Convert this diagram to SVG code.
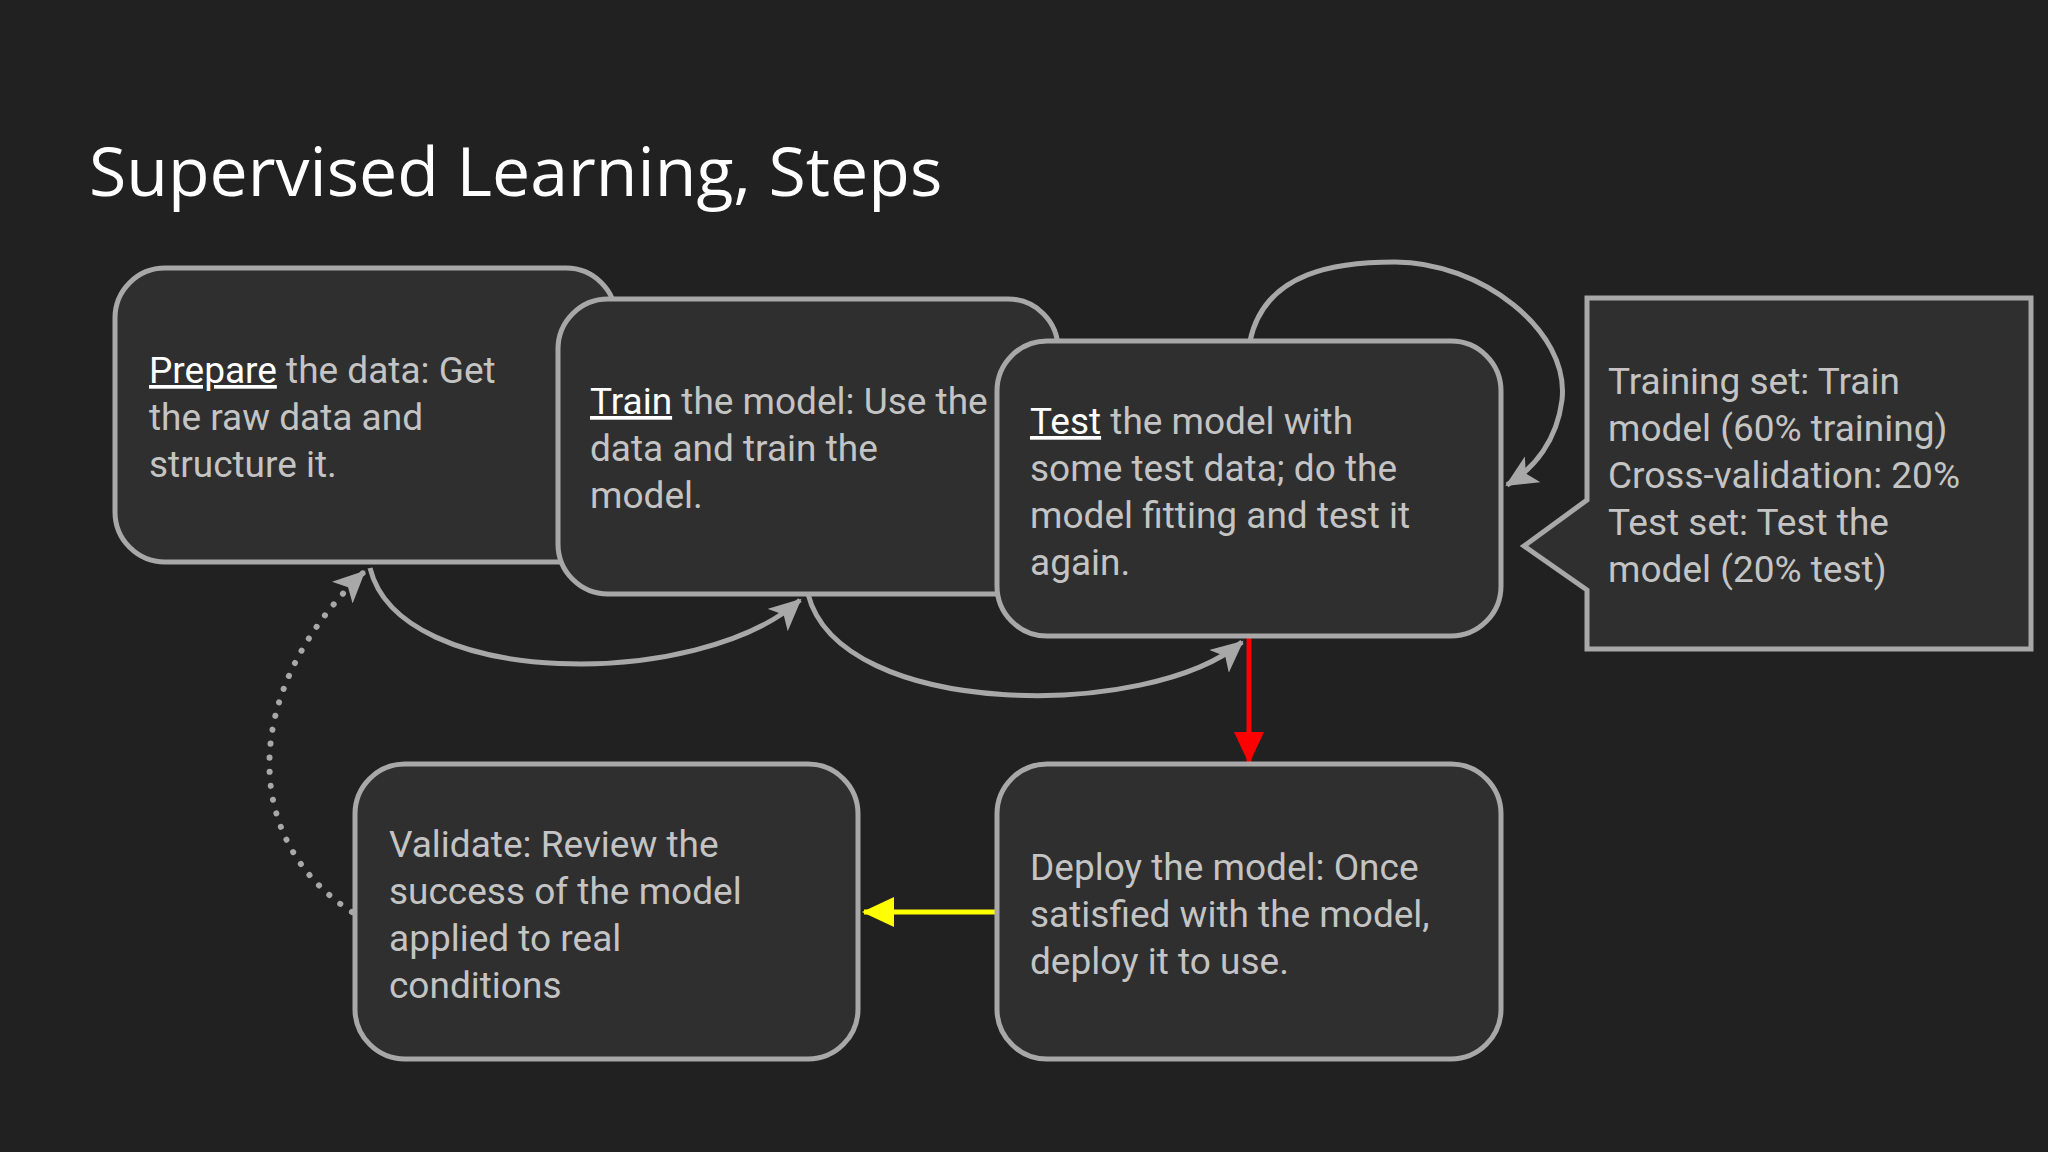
<svg xmlns="http://www.w3.org/2000/svg" width="2048" height="1152" viewBox="0 0 2048 1152">
<style>
.box{fill:#2f2f2f;stroke:#a8a8a8;stroke-width:5}
.t{font-family:Roboto,"Liberation Sans",Arial,sans-serif;font-size:37px;fill:#c4c4c4}
.u{fill:#ffffff;text-decoration:underline}
.c{fill:none;stroke:#a8a8a8;stroke-width:5}
</style>
<defs>
<marker id="ag" markerUnits="userSpaceOnUse" markerWidth="40" markerHeight="40" refX="30" refY="15" orient="auto"><path d="M0,0 L32,15 L0,30 L8,15 Z" fill="#a8a8a8"/></marker>
<marker id="ar" markerUnits="userSpaceOnUse" markerWidth="40" markerHeight="40" refX="30" refY="15" orient="auto"><path d="M0,0 L32,15 L0,30 Z" fill="#ff0000"/></marker>
<marker id="ay" markerUnits="userSpaceOnUse" markerWidth="40" markerHeight="40" refX="30" refY="15" orient="auto"><path d="M0,0 L32,15 L0,30 Z" fill="#ffff00"/></marker>
</defs>
<rect width="2048" height="1152" fill="#212121"/>
<text x="89" y="196" font-family="'Open Sans','Noto Sans',sans-serif" font-size="68" fill="#ffffff">Supervised Learning, Steps</text>
<g id="connectors">
<path class="c" d="M370,568 C400,690 700,690 800,600" marker-end="url(#ag)"/>
<path class="c" d="M808,594 C840,720 1150,720 1242,642" marker-end="url(#ag)"/>
<path class="c" d="M1250,341 C1265,270 1340,262 1395,262 C1480,262 1570,330 1562,400 C1557,440 1535,468 1507,485" marker-end="url(#ag)"/>
<path d="M1249,638 L1249,762" fill="none" stroke="#ff0000" stroke-width="5" marker-end="url(#ar)"/>
<path d="M995,912 L864,912" fill="none" stroke="#ffff00" stroke-width="5" marker-end="url(#ay)"/>
<path d="M352,912 C240,840 240,690 364,572" fill="none" stroke="#a8a8a8" stroke-width="6" stroke-dasharray="0.1 14" stroke-linecap="round" marker-end="url(#ag)"/>
</g>
<g id="prepare"><rect class="box" x="115" y="268" width="501" height="294" rx="50"/>
<text class="t"><tspan x="149" y="383"><tspan class="u">Prepare</tspan> the data: Get</tspan><tspan x="149" y="430">the raw data and</tspan><tspan x="149" y="477">structure it.</tspan></text></g>
<g id="train"><rect class="box" x="558" y="299" width="500" height="295" rx="50"/>
<text class="t"><tspan x="590" y="414"><tspan class="u">Train</tspan> the model: Use the</tspan><tspan x="590" y="461">data and train the</tspan><tspan x="590" y="508">model.</tspan></text></g>
<g id="test"><rect class="box" x="997" y="341" width="504" height="295" rx="50"/>
<text class="t"><tspan x="1030" y="434"><tspan class="u">Test</tspan> the model with</tspan><tspan x="1030" y="481">some test data; do the</tspan><tspan x="1030" y="528">model fitting and test it</tspan><tspan x="1030" y="575">again.</tspan></text></g>
<g id="callout"><path class="box" d="M1587,298 L2031,298 L2031,649 L1587,649 L1587,590 L1524,546 L1587,500 Z"/>
<text class="t"><tspan x="1608" y="394">Training set: Train</tspan><tspan x="1608" y="441">model (60% training)</tspan><tspan x="1608" y="488">Cross-validation: 20%</tspan><tspan x="1608" y="535">Test set: Test the</tspan><tspan x="1608" y="582">model (20% test)</tspan></text></g>
<g id="validate"><rect class="box" x="355" y="764" width="503" height="295" rx="50"/>
<text class="t"><tspan x="389" y="857">Validate: Review the</tspan><tspan x="389" y="904">success of the model</tspan><tspan x="389" y="951">applied to real</tspan><tspan x="389" y="998">conditions</tspan></text></g>
<g id="deploy"><rect class="box" x="997" y="764" width="504" height="295" rx="50"/>
<text class="t"><tspan x="1030" y="880">Deploy the model: Once</tspan><tspan x="1030" y="927">satisfied with the model,</tspan><tspan x="1030" y="974">deploy it to use.</tspan></text></g>
</svg>
